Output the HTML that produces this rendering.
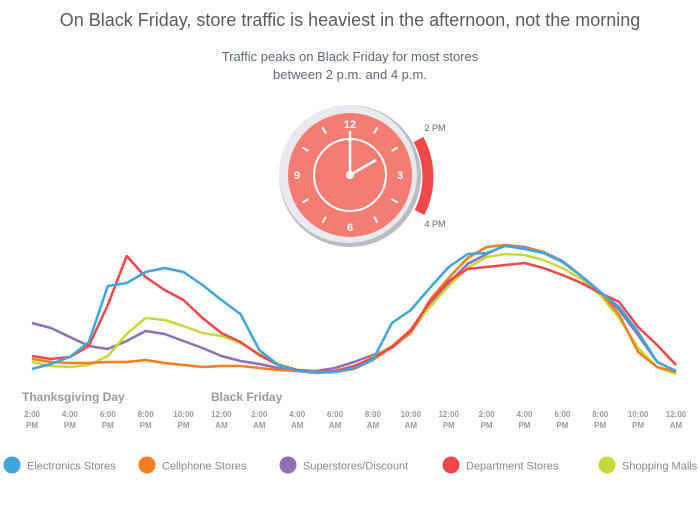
<!DOCTYPE html>
<html><head><meta charset="utf-8"><style>
body{margin:0;background:#fff;width:700px;height:500px;overflow:hidden;font-family:"Liberation Sans",sans-serif}
</style></head><body>
<svg width="700" height="500" viewBox="0 0 700 500">
<text x="350" y="26" text-anchor="middle" font-size="18" fill="#555c60">On Black Friday, store traffic is heaviest in the afternoon, not the morning</text>
<text x="350" y="61" text-anchor="middle" font-size="13" fill="#5b6a74">Traffic peaks on Black Friday for most stores</text>
<text x="350" y="79" text-anchor="middle" font-size="13" fill="#5b6a74">between 2 p.m. and 4 p.m.</text>
<g>
<path d="M418.5,139.5 A79,79 0 0 1 419.5,212.5" stroke="#f0474a" stroke-width="11" fill="none"/>
<circle cx="350" cy="176" r="71" fill="#b9bcc2"/>
<circle cx="348" cy="174" r="69" fill="#e9eaee"/>
<circle cx="350" cy="175" r="62" fill="#f47c72"/>
<circle cx="350" cy="175" r="36" fill="none" stroke="#fff" stroke-width="2"/>
<g id="ticks" stroke="#fff" stroke-width="2"></g>
<text x="350" y="128" text-anchor="middle" font-size="11" font-weight="bold" fill="#fff">12</text>
<text x="400" y="179" text-anchor="middle" font-size="11" font-weight="bold" fill="#fff">3</text>
<text x="350" y="231" text-anchor="middle" font-size="11" font-weight="bold" fill="#fff">6</text>
<text x="297" y="179" text-anchor="middle" font-size="11" font-weight="bold" fill="#fff">9</text>
<line x1="350" y1="175" x2="350" y2="131" stroke="#fff" stroke-width="2.5"/>
<line x1="350" y1="175" x2="376" y2="160" stroke="#fff" stroke-width="2.5"/>
<circle cx="350" cy="175" r="4" fill="#fff"/>
<text x="435" y="131" text-anchor="middle" font-size="9" fill="#666">2 PM</text>
<text x="435" y="227" text-anchor="middle" font-size="9" fill="#666">4 PM</text>
</g>
<g id="lines"></g>
<g id="xaxis"></g>
<text x="22" y="401" font-size="12" font-weight="bold" fill="#9a9a9a">Thanksgiving Day</text>
<text x="211" y="401" font-size="12" font-weight="bold" fill="#9a9a9a">Black Friday</text>
<g id="legend"></g>
</svg>
<script>
const hours = 35;
const tickLabels = ["2:00","4:00","6:00","8:00","10:00","12:00","2:00","4:00","6:00","8:00","10:00","12:00","2:00","4:00","6:00","8:00","10:00","12:00"];
const tickPeriods = ["PM","PM","PM","PM","PM","AM","AM","AM","AM","AM","AM","PM","PM","PM","PM","PM","PM","AM"];
const seriesNames = ["Electronics Stores","Cellphone Stores","Superstores/Discount","Department Stores","Shopping Malls"];
const electronics = [11,16,23,38,94,97,108,112,108,95,80,66,30,15,9,8,8,12,20,57,70,92,113,126,127,134,131,127,118,104,88,73,48,18,9];
const cellphone = [21,18,17,17,18,18,20,17,15,13,14,14,12,10,9,7,8,11,20,33,47,80,102,122,133,135,132,128,118,104,88,65,28,13,8];
const superstores = [57,52,43,34,31,39,49,46,39,32,24,19,16,12,10,9,12,18,25,32,48,74,97,116,126,135,133,128,119,104,88,70,45,18,9];
const department = [24,21,23,34,75,124,103,90,80,62,47,38,25,15,10,8,9,14,22,33,50,78,99,111,113,115,117,112,105,97,87,78,53,35,15];
const malls = [18,14,13,15,24,46,62,60,54,47,44,37,26,16,10,8,9,13,23,34,50,73,94,112,123,126,125,120,112,101,85,62,32,13,6];
const NS="http://www.w3.org/2000/svg";
const xS = h => 32 + h*(644/34);
const yS = v => 380 - v;
const drawOrder = [
 ["superstores",superstores,"#8e6fb5"],
 ["malls",malls,"#c8d83a"],
 ["cellphone",cellphone,"#f57f20"],
 ["department",department,"#f0474a"],
 ["electronics",electronics,"#3fa6dc"]];
const lg=document.getElementById('lines');
drawOrder.forEach(([n,arr,c])=>{
 const p=document.createElementNS(NS,'polyline');
 p.setAttribute('points',arr.map((v,i)=>xS(i).toFixed(1)+','+yS(v)).join(' '));
 p.setAttribute('fill','none');p.setAttribute('stroke',c);p.setAttribute('stroke-width','2.5');p.setAttribute('stroke-linejoin','round');
 
 
 lg.appendChild(p);
});
const xa=document.getElementById('xaxis');
tickLabels.forEach((t,i)=>{
 const x=xS(i*2);
 [t,tickPeriods[i]].forEach((s,j)=>{
  const tx=document.createElementNS(NS,'text');
  tx.setAttribute('x',x);tx.setAttribute('y',417+j*11);tx.setAttribute('text-anchor','middle');
  tx.setAttribute('font-size','8');tx.setAttribute('font-weight','bold');tx.setAttribute('fill','#9a9a9a');
  tx.textContent=s;
  
  
  xa.appendChild(tx);
 });
});
const tk=document.getElementById('ticks');
for(let k=0;k<12;k++){ if(k%3==0) continue;
 const a=k*Math.PI/6;
 const l=document.createElementNS(NS,'line');
 l.setAttribute('x1',350+Math.sin(a)*48);l.setAttribute('y1',175-Math.cos(a)*48);
 l.setAttribute('x2',350+Math.sin(a)*55);l.setAttribute('y2',175-Math.cos(a)*55);
 
 
 tk.appendChild(l);
}
const legendColors=["#3fa6dc","#f57f20","#8e6fb5","#f0474a","#c8d83a"];
const legX=[12,147,288,451,607];
const lgd=document.getElementById('legend');
seriesNames.forEach((n,i)=>{
 const g=document.createElementNS(NS,'g');
 
 
 const c=document.createElementNS(NS,'circle');
 c.setAttribute('cx',legX[i]);c.setAttribute('cy',465);c.setAttribute('r',8.5);c.setAttribute('fill',legendColors[i]);
 const t=document.createElementNS(NS,'text');
 t.setAttribute('x',legX[i]+15);t.setAttribute('y',469.5);t.setAttribute('font-size','11');t.setAttribute('fill','#888');
 t.textContent=n;
 g.appendChild(c);g.appendChild(t);lgd.appendChild(g);
});
</script>
</body></html>
